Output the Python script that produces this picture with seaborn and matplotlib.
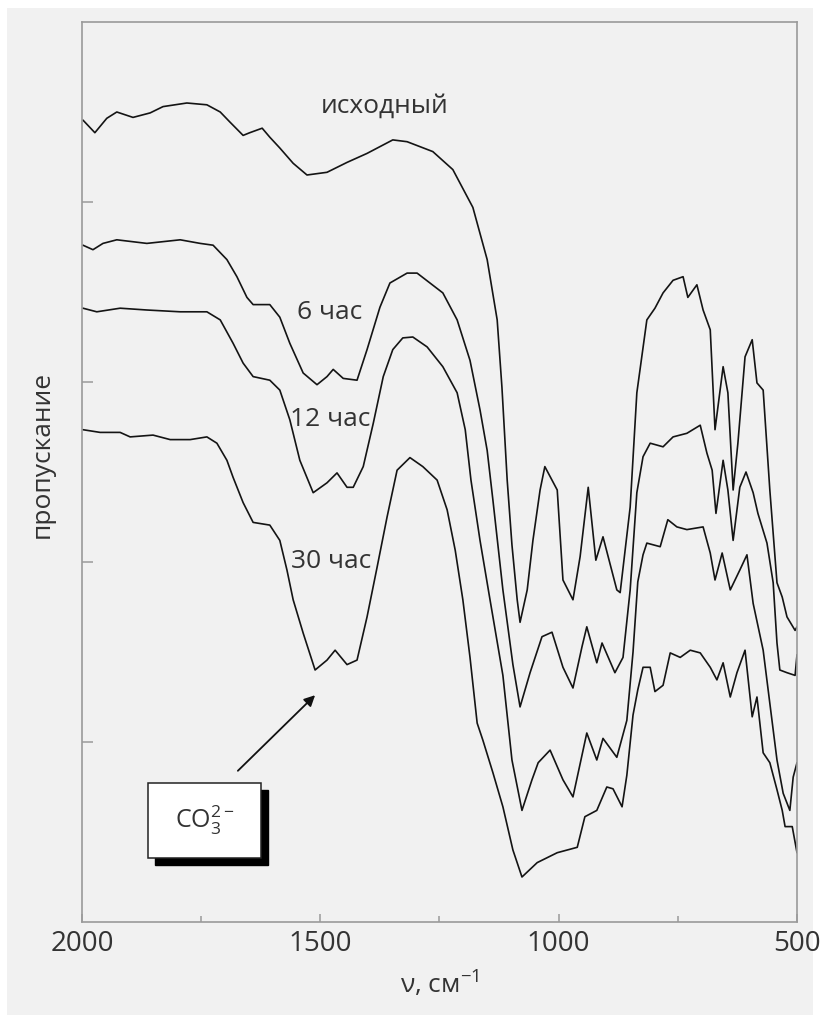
import numpy as np
import pandas as pd
import matplotlib
matplotlib.use("Agg")
import matplotlib.pyplot as plt
from matplotlib.patches import Rectangle
import seaborn as sns

# ---------------- data ----------------
wn_initial = [1998, 1973, 1948, 1927, 1893, 1857, 1830, 1780, 1738, 1710, 1690, 1662, 1648, 1622,
              1606, 1585, 1557, 1528, 1486, 1444, 1402, 1348, 1318, 1264, 1222, 1180, 1150, 1129,
              1119, 1108, 1098, 1087, 1081, 1066, 1054, 1039, 1029, 1003, 991, 970, 955, 938, 922,
              907, 878, 871, 850, 836, 815, 798, 781, 760, 739, 729, 710, 697, 682, 672, 655, 645,
              634, 624, 609, 594, 584, 571, 557, 542, 531, 521, 504, 500]
t_initial = [89.1, 87.7, 89.3, 90.0, 89.4, 89.9, 90.6, 91.0, 90.8, 90.0, 88.9, 87.4, 87.7, 88.2,
             87.2, 86.0, 84.3, 83.0, 83.3, 84.4, 85.4, 86.9, 86.7, 85.6, 83.6, 79.4, 73.6, 66.9,
             59.4, 49.1, 41.9, 35.8, 33.3, 36.9, 42.4, 48.0, 50.6, 48.0, 38.0, 35.8, 40.6, 48.3, 40.2,
             42.8, 36.9, 36.6, 46.1, 58.8, 66.9, 68.2, 69.9, 71.3, 71.7, 69.4, 70.8, 68.0, 65.8, 54.7,
             61.7, 58.8, 48.0, 53.2, 62.8, 64.7, 59.9, 59.1, 48.0, 37.7, 36.1, 33.9, 32.4, 32.8]

wn_6h = [1998, 1977, 1956, 1927, 1864, 1794, 1752, 1725, 1696, 1675, 1654, 1641, 1606, 1585,
         1564, 1536, 1507, 1486, 1473, 1452, 1423, 1402, 1375, 1354, 1318, 1297, 1270, 1243,
         1213, 1186, 1165, 1150, 1138, 1117, 1096, 1081, 1060, 1035, 1014, 991, 970, 951, 941,
         920, 909, 882, 865, 850, 836, 823, 808, 781, 760, 731, 703, 689, 678, 670, 655, 645,
         634, 620, 607, 592, 582, 563, 550, 542, 536, 521, 504, 500]
t_6h = [75.2, 74.7, 75.4, 75.8, 75.4, 75.8, 75.4, 75.2, 73.6, 71.7, 69.4, 68.6, 68.6, 67.2,
        64.3, 61.0, 59.7, 60.6, 61.4, 60.4, 60.2, 63.6, 68.3, 71.0, 72.1, 72.1, 71.0, 69.9,
        66.9, 62.4, 56.9, 52.4, 46.9, 36.9, 28.6, 23.9, 27.7, 31.7, 32.2, 28.3, 26.0, 30.6, 32.8,
        28.8, 31.0, 27.7, 29.4, 36.9, 47.7, 51.7, 53.2, 52.8, 53.9, 54.3, 55.2, 52.1, 50.2, 45.4,
        51.3, 48.0, 42.4, 48.3, 50.0, 47.7, 45.4, 42.1, 37.7, 31.0, 28.0, 27.7, 27.4, 29.7]

wn_12h = [1998, 1969, 1920, 1864, 1794, 1738, 1710, 1683, 1662, 1641, 1606, 1585, 1564, 1543,
          1515, 1486, 1465, 1444, 1431, 1410, 1389, 1368, 1348, 1327, 1306, 1276, 1243, 1213,
          1196, 1184, 1165, 1144, 1117, 1098, 1077, 1056, 1043, 1018, 991, 970, 941, 920, 907,
          878, 857, 844, 834, 823, 815, 787, 771, 752, 731, 697, 682, 672, 657, 640, 620, 605,
          592, 571, 557, 542, 529, 515, 508, 500]
t_12h = [68.2, 67.8, 68.2, 68.0, 67.8, 67.8, 66.9, 64.3, 62.1, 60.6, 60.2, 59.1, 55.8, 51.3,
         47.7, 48.8, 49.9, 48.3, 48.3, 50.6, 55.4, 60.6, 63.6, 64.9, 65.0, 63.9, 61.7, 58.8,
         54.7, 49.1, 42.4, 35.8, 27.4, 18.0, 12.4, 15.8, 17.7, 19.1, 15.8, 13.9, 21.0, 18.0, 20.4,
         18.3, 22.4, 30.0, 37.8, 40.8, 42.1, 41.7, 44.7, 43.9, 43.6, 43.9, 41.0, 38.0, 41.0, 36.9,
         39.1, 40.8, 35.4, 30.2, 24.3, 18.0, 14.3, 12.4, 16.1, 17.7]

wn_30h = [1998, 1962, 1920, 1899, 1851, 1815, 1773, 1738, 1717, 1696, 1683, 1662, 1641, 1606,
          1585, 1570, 1557, 1536, 1511, 1486, 1469, 1444, 1423, 1402, 1381, 1360, 1339, 1312,
          1285, 1255, 1234, 1217, 1201, 1186, 1171, 1159, 1138, 1117, 1096, 1077, 1045, 1003,
          961, 945, 920, 899, 886, 867, 857, 844, 834, 823, 808, 798, 781, 766, 745, 724, 703,
          682, 668, 655, 640, 626, 609, 594, 584, 571, 557, 542, 531, 525, 510, 500]
t_30h = [54.7, 54.4, 54.4, 53.9, 54.1, 53.6, 53.6, 53.9, 53.2, 51.3, 49.4, 46.6, 44.4, 44.1,
         42.4, 39.1, 35.8, 32.1, 28.0, 29.1, 30.2, 28.6, 29.1, 33.9, 39.4, 45.0, 50.2, 51.6,
         50.6, 49.1, 45.8, 41.3, 35.8, 29.4, 22.1, 20.2, 16.6, 12.8, 8.0, 5.0, 6.6, 7.7,
         8.3, 11.7, 12.4, 15.0, 14.8, 12.8, 16.3, 23.0, 25.8, 28.3, 28.3, 25.6, 26.3, 29.9, 29.4,
         30.2, 29.9, 28.3, 26.9, 28.8, 25.0, 27.7, 30.2, 22.8, 25.0, 18.8, 17.7, 14.7, 12.4,
         10.6, 10.6, 7.7]

sample_names = ["исходный", "6 час", "12 час", "30 час"]
label_wn = [1366, 1480, 1480, 1478]
label_t = [90.6, 67.7, 55.8, 40.0]

x_major = [2000, 1500, 1000, 500]
x_minor = [1750, 1250, 750]
y_ticks = [20, 40, 60, 80]

# ---------------- table ----------------
frames = []
for name, w, t in zip(sample_names,
                      [wn_initial, wn_6h, wn_12h, wn_30h],
                      [t_initial, t_6h, t_12h, t_30h]):
    frames.append(pd.DataFrame({"wn": w, "T": t, "sample": name}))
df = pd.concat(frames, ignore_index=True)

# ---------------- style ----------------
sns.set_style("ticks")
plt.rcParams["font.family"] = ["Open Sans", "DejaVu Sans"]
plt.rcParams["mathtext.fontset"] = "custom"
plt.rcParams["mathtext.rm"] = "Open Sans"
plt.rcParams["mathtext.it"] = "Open Sans:italic"
plt.rcParams["mathtext.bf"] = "Open Sans:bold"
plt.rcParams["mathtext.sf"] = "Open Sans"

BG = "#f1f1f1"
SPINE = "#9a9a9a"
TXT = "#333333"

fig = plt.figure(figsize=(8.29, 10.16), dpi=100)
fig.patch.set_facecolor("white")
fig.add_artist(Rectangle((7 / 829, 1 / 1016), 806 / 829, 1007 / 1016,
                         transform=fig.transFigure, fc=BG, ec="none", zorder=-10))
ax = fig.add_axes([82 / 829, 1 - 922 / 1016, 715 / 829, 900 / 1016])
ax.set_facecolor(BG)

sns.lineplot(data=df, x="wn", y="T", hue="sample", units="sample", estimator=None,
             palette=["#141414"] * 4, linewidth=1.2, legend=False, ax=ax, sort=False)

ax.set_xlim(2000, 500)
ax.set_ylim(0, 100)
ax.set_xticks(x_major)
ax.set_xticks(x_minor, minor=True)
ax.set_xticklabels([str(v) for v in x_major])
ax.set_yticks(y_ticks)
ax.set_yticklabels([])

for sp in ax.spines.values():
    sp.set_visible(True)
    sp.set_color(SPINE)
    sp.set_linewidth(1.2)

ax.tick_params(axis="x", which="major", direction="in", length=6, width=1.1,
               color=SPINE, labelsize=20, labelcolor=TXT, pad=6, top=False)
ax.tick_params(axis="x", which="minor", direction="in", length=4, width=1.1,
               color=SPINE, top=False)
ax.tick_params(axis="y", which="major", direction="in", length=8, width=1.1,
               color=SPINE, right=False, labelleft=False)

ax.set_xlabel("ν, см$^{-1}$", fontsize=19, color=TXT, labelpad=8)
ax.set_ylabel("пропускание", fontsize=19, color=TXT)
ax.yaxis.set_label_coords(-0.038, 0.52)

for name, lx, ly in zip(sample_names, label_wn, label_t):
    ax.text(lx, ly, name, ha="center", va="center", fontsize=19, color=TXT)

# arrow to the carbonate band
ax.annotate("", xy=(1511, 25.2), xytext=(1673, 16.8),
            arrowprops=dict(arrowstyle="-|>", color="#111111", lw=1.3,
                            mutation_scale=16, shrinkA=0, shrinkB=0))

# box with shadow
bx, by, bw, bh = 0.092, 0.071, 0.159, 0.083
ax.add_patch(Rectangle((bx + 0.0098, by - 0.0078), bw, bh, transform=ax.transAxes,
                       fc="black", ec="black", zorder=5))
ax.add_patch(Rectangle((bx, by), bw, bh, transform=ax.transAxes,
                       fc="white", ec="#222222", lw=1.1, zorder=6))
ax.text(bx + bw / 2, by + bh / 2, r"CO$_3^{2-}$", transform=ax.transAxes,
        ha="center", va="center", fontsize=18, color=TXT, zorder=7)

fig.savefig("out.png", dpi=100, facecolor=fig.get_facecolor())
